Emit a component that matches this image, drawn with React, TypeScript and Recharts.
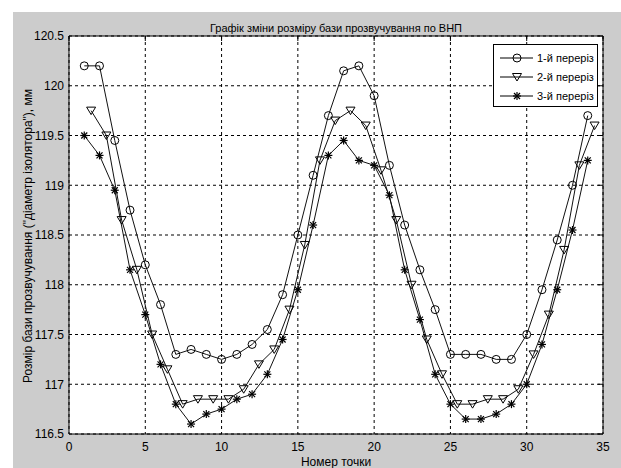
import { LineChart, Line, XAxis, YAxis, CartesianGrid } from 'recharts';

// номери точок (1-й та 3-й переріз)
const pointNo = [1, 2, 3, 4, 5, 6, 7, 8, 9, 10, 11, 12, 13, 14, 15, 16, 17, 18, 19, 20, 21, 22, 23, 24, 25, 26, 27, 28, 29, 30, 31, 32, 33, 34];
// 2-й переріз у записі зсунутий праворуч приблизно на пів кроку
const pointNo2 = [1.45, 2.45, 3.45, 4.45, 5.45, 6.45, 7.45, 8.45, 9.45, 10.45, 11.45, 12.45, 13.45, 14.45, 15.45, 16.45, 17.45, 18.45, 19.45, 20.45, 21.45, 22.45, 23.45, 24.45, 25.45, 26.45, 27.45, 28.45, 29.45, 30.45, 31.45, 32.45, 33.45, 34.45];

const section1 = [120.2, 120.2, 119.45, 118.75, 118.2, 117.8, 117.3, 117.35, 117.3, 117.25, 117.3, 117.4, 117.55, 117.9, 118.5, 119.1, 119.7, 120.15, 120.2, 119.9, 119.2, 118.6, 118.15, 117.75, 117.3, 117.3, 117.3, 117.25, 117.25, 117.5, 117.95, 118.45, 119.0, 119.7];
const section2 = [119.75, 119.5, 118.65, 118.15, 117.5, 117.15, 116.8, 116.85, 116.85, 116.85, 116.95, 117.2, 117.35, 117.75, 118.4, 119.25, 119.65, 119.75, 119.6, 119.15, 118.65, 118.0, 117.45, 117.1, 116.8, 116.8, 116.85, 116.85, 116.95, 117.3, 117.7, 118.35, 119.2, 119.6];
const section3 = [119.5, 119.3, 118.95, 118.15, 117.7, 117.2, 116.8, 116.6, 116.7, 116.75, 116.85, 116.9, 117.1, 117.45, 117.95, 118.6, 119.3, 119.45, 119.25, 119.2, 118.9, 118.15, 117.65, 117.1, 116.8, 116.65, 116.65, 116.7, 116.8, 117.0, 117.4, 117.95, 118.55, 119.25];

const xTicks = [0, 5, 10, 15, 20, 25, 30, 35];
const yTicks = [116.5, 117, 117.5, 118, 118.5, 119, 119.5, 120, 120.5];
const seriesNames = ['1-й переріз', '2-й переріз', '3-й переріз'];

const data1 = pointNo.map((x, i) => ({ x, y: section1[i] }));
const data2 = pointNo2.map((x, i) => ({ x, y: section2[i] }));
const data3 = pointNo.map((x, i) => ({ x, y: section3[i] }));

const FONT = "'Liberation Sans Narrow', 'Liberation Sans', Arial, sans-serif";
const INK = '#000';

const CircleMark = ({ cx, cy }: { cx: number; cy: number }) => (
  <circle cx={cx} cy={cy} r={4} fill="none" stroke={INK} strokeWidth={1} />
);
const TriMark = ({ cx, cy }: { cx: number; cy: number }) => (
  <polygon points={`${cx - 4.5},${cy - 3.5} ${cx + 4.5},${cy - 3.5} ${cx},${cy + 4}`} fill="none" stroke={INK} strokeWidth={1} />
);
const StarMark = ({ cx, cy }: { cx: number; cy: number }) => (
  <g stroke={INK} strokeWidth={1.2}>
    <line x1={cx - 4} y1={cy} x2={cx + 4} y2={cy} />
    <line x1={cx} y1={cy - 4} x2={cx} y2={cy + 4} />
    <line x1={cx - 3} y1={cy - 3} x2={cx + 3} y2={cy + 3} />
    <line x1={cx - 3} y1={cy + 3} x2={cx + 3} y2={cy - 3} />
  </g>
);
const marks = [CircleMark, TriMark, StarMark];

const dotFn = (Mark: typeof CircleMark) => (p: any) => <Mark key={`d-${p.index}`} cx={p.cx} cy={p.cy} />;

const LegendBox = () => (
  <div style={{ position: 'absolute', left: 493, top: 44, width: 105, height: 63, background: '#fff', border: '1px solid #000', boxSizing: 'border-box', fontSize: 11, color: INK }}>
    {seriesNames.map((name, i) => {
      const Mark = marks[i];
      return (
        <div key={name} style={{ display: 'flex', alignItems: 'center', height: 19, marginTop: i === 0 ? 3 : 0, whiteSpace: 'nowrap' }}>
          <svg width={34} height={12} style={{ marginLeft: 6, flex: 'none' }}>
            <line x1={0} y1={6} x2={33} y2={6} stroke={INK} strokeWidth={1} />
            <Mark cx={17} cy={6} />
          </svg>
          <span style={{ marginLeft: 3 }}>{name}</span>
        </div>
      );
    })}
  </div>
);

const blankTick = () => <g />;

export default function App() {
  return (
    <div style={{ position: 'absolute', left: 0, top: 0, width: 621, height: 468, background: '#fff', overflow: 'hidden', fontFamily: FONT }}>
      <div style={{ position: 'absolute', left: 13, top: 12, right: 0, bottom: 0, background: '#cccccc' }} />
      <div style={{ position: 'absolute', left: 0, top: 0 }}>
        <LineChart width={621} height={468} margin={{ top: 36, right: 18, left: 9, bottom: 4 }}>
          <CartesianGrid fill="#fff" stroke="#000" strokeDasharray="3 3" />
          <XAxis dataKey="x" type="number" domain={[0, 35]} ticks={xTicks} allowDataOverflow height={30} interval={0}
            axisLine={{ stroke: INK }} tickLine={false} tickSize={4} tickMargin={4}
            tick={{ fill: INK, fontSize: 12, fontFamily: FONT }} />
          <XAxis xAxisId="top" orientation="top" dataKey="x" type="number" domain={[0, 35]} ticks={xTicks} allowDataOverflow
            mirror axisLine={{ stroke: INK }} tickLine={{ stroke: INK }} tickSize={5} tick={blankTick} interval={0} />
          <YAxis type="number" domain={[116.5, 120.5]} ticks={yTicks} allowDataOverflow width={60} interval={0}
            axisLine={{ stroke: INK }} tickLine={false} tickSize={3} tickMargin={2}
            tick={{ fill: INK, fontSize: 12, fontFamily: FONT }} />
          <YAxis yAxisId="right" orientation="right" type="number" domain={[116.5, 120.5]} ticks={yTicks} allowDataOverflow
            mirror axisLine={{ stroke: INK }} tickLine={{ stroke: INK }} tickSize={5} tick={blankTick} interval={0} />
          <Line data={data1} dataKey="y" name={seriesNames[0]} stroke="#111" strokeWidth={1} dot={dotFn(CircleMark)} isAnimationActive={false} />
          <Line data={data2} dataKey="y" name={seriesNames[1]} stroke="#111" strokeWidth={1} dot={dotFn(TriMark)} isAnimationActive={false} />
          <Line data={data3} dataKey="y" name={seriesNames[2]} stroke="#111" strokeWidth={1} dot={dotFn(StarMark)} isAnimationActive={false} />
        </LineChart>
      </div>
      <LegendBox />
      <div style={{ position: 'absolute', left: 69, width: 534, top: 22, fontSize: 11, lineHeight: '12px', textAlign: 'center', color: INK }}>
        Графік зміни розміру бази прозвучування по ВНП
      </div>
      <div style={{ position: 'absolute', left: 69, width: 534, top: 456, fontSize: 12, lineHeight: '12px', textAlign: 'center', color: INK }}>
        Номер точки
      </div>
      <div style={{ position: 'absolute', left: 28 - 200, top: 236 - 6, width: 400, fontSize: 12, lineHeight: '12px', textAlign: 'center', color: INK, transform: 'rotate(-90deg)' }}>
        Розмір бази прозвучування ("діаметр ізолятора"), мм
      </div>
    </div>
  );
}
